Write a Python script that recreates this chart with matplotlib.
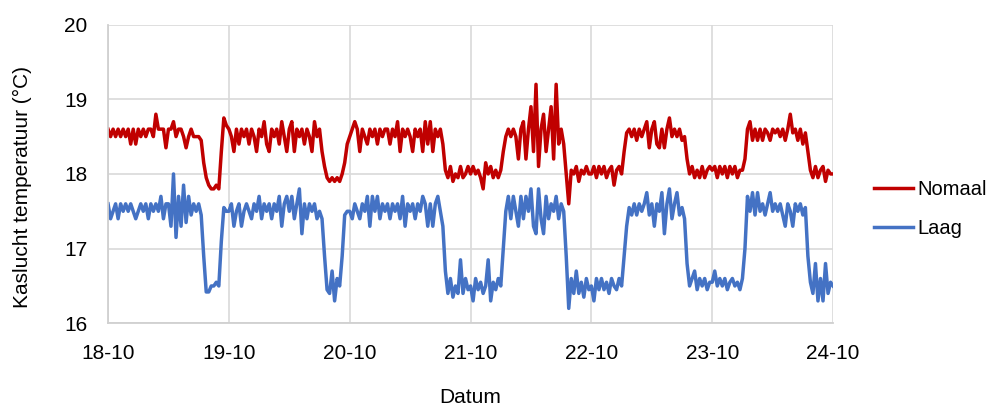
import numpy as np
import matplotlib
matplotlib.use("Agg")
import matplotlib.pyplot as plt

plt.rcParams['font.family'] = ['Liberation Sans', 'DejaVu Sans']

# Tick labels (days)
day_labels = ['18-10', '19-10', '20-10', '21-10', '22-10', '23-10', '24-10']

# Half-hourly readings per day (48 values each)
nomaal_18 = [
    18.6, 18.5, 18.6, 18.5, 18.6, 18.5, 18.6, 18.5, 18.6, 18.4, 18.6, 18.4,
    18.6, 18.5, 18.6, 18.5, 18.6, 18.6, 18.5, 18.8, 18.6, 18.6, 18.6, 18.35,
    18.6, 18.6, 18.7, 18.5, 18.6, 18.6, 18.5, 18.35, 18.5, 18.6, 18.5, 18.5,
    18.5, 18.45, 18.15, 17.95, 17.85, 17.8, 17.8, 17.85, 17.8, 18.3, 18.75, 18.65]
nomaal_19 = [
    18.6, 18.5, 18.3, 18.6, 18.4, 18.6, 18.5, 18.6, 18.4, 18.6, 18.5, 18.3,
    18.6, 18.5, 18.7, 18.4, 18.3, 18.6, 18.5, 18.6, 18.4, 18.7, 18.5, 18.3,
    18.6, 18.7, 18.3, 18.6, 18.5, 18.6, 18.4, 18.6, 18.5, 18.3, 18.7, 18.5,
    18.6, 18.3, 18.1, 17.95, 17.9, 17.95, 17.9, 17.95, 17.9, 18.0, 18.15, 18.4]
nomaal_20 = [
    18.5, 18.6, 18.7, 18.6, 18.3, 18.6, 18.5, 18.4, 18.6, 18.5, 18.6, 18.4,
    18.6, 18.5, 18.6, 18.6, 18.4, 18.6, 18.5, 18.7, 18.3, 18.6, 18.5, 18.6,
    18.5, 18.3, 18.6, 18.5, 18.6, 18.3, 18.7, 18.4, 18.7, 18.3, 18.6, 18.5,
    18.6, 18.4, 18.05, 17.95, 18.1, 17.9, 18.0, 17.95, 18.1, 17.95, 18.0, 18.1]
nomaal_21 = [
    18.0, 18.1, 18.0, 18.05, 17.95, 17.8, 18.15, 18.0, 18.1, 17.95, 18.05, 17.95,
    18.05, 18.3, 18.5, 18.6, 18.5, 18.6, 18.5, 18.2, 18.6, 18.7, 18.2, 18.6,
    18.9, 18.3, 19.2, 18.1, 18.6, 18.8, 18.3, 18.6, 18.9, 18.2, 19.2, 18.4,
    18.6, 18.4, 18.0, 17.6, 18.05, 18.0, 18.1, 17.9, 18.05, 18.0, 18.1, 18.0]
nomaal_22 = [
    18.0, 18.1, 17.95, 18.1, 18.0, 18.1, 17.95, 18.05, 18.1, 17.85, 18.05, 18.1,
    18.0, 18.3, 18.55, 18.6, 18.5, 18.6, 18.45, 18.6, 18.5, 18.6, 18.7, 18.35,
    18.6, 18.7, 18.4, 18.35, 18.6, 18.35, 18.6, 18.75, 18.5, 18.6, 18.5, 18.6,
    18.45, 18.5, 18.2, 18.0, 18.1, 17.95, 18.05, 17.95, 18.1, 17.95, 18.05, 18.1]
nomaal_23 = [
    18.05, 18.1, 17.95, 18.1, 18.0, 18.1, 17.95, 18.1, 18.0, 18.1, 17.95, 18.05,
    18.05, 18.2, 18.6, 18.7, 18.45, 18.6, 18.45, 18.6, 18.45, 18.6, 18.55, 18.45,
    18.6, 18.55, 18.6, 18.5, 18.6, 18.45, 18.6, 18.8, 18.55, 18.6, 18.45, 18.6,
    18.4, 18.55, 18.3, 18.05, 17.95, 18.1, 17.95, 18.05, 18.1, 17.9, 18.05, 18.0]
nomaal_24 = [18.0]

laag_18 = [
    17.6, 17.4, 17.5, 17.6, 17.4, 17.6, 17.5, 17.6, 17.5, 17.6, 17.5, 17.4,
    17.5, 17.6, 17.5, 17.6, 17.4, 17.6, 17.5, 17.6, 17.5, 17.7, 17.4, 17.6,
    17.6, 17.3, 18.0, 17.15, 17.7, 17.3, 17.85, 17.35, 17.7, 17.45, 17.6, 17.5,
    17.6, 17.45, 16.9, 16.42, 16.42, 16.5, 16.5, 16.55, 16.5, 17.1, 17.55, 17.5]
laag_19 = [
    17.5, 17.6, 17.3, 17.5, 17.6, 17.3, 17.5, 17.6, 17.5, 17.4, 17.6, 17.5,
    17.7, 17.4, 17.6, 17.5, 17.6, 17.4, 17.6, 17.5, 17.7, 17.3, 17.6, 17.7,
    17.5, 17.7, 17.4, 17.6, 17.8, 17.2, 17.6, 17.4, 17.6, 17.5, 17.6, 17.4,
    17.5, 17.4, 16.9, 16.45, 16.4, 16.7, 16.3, 16.6, 16.5, 16.9, 17.45, 17.5]
laag_20 = [
    17.5, 17.4, 17.6, 17.5, 17.4, 17.6, 17.5, 17.7, 17.3, 17.7, 17.5, 17.7,
    17.4, 17.6, 17.5, 17.6, 17.4, 17.6, 17.5, 17.6, 17.4, 17.7, 17.3, 17.6,
    17.5, 17.6, 17.4, 17.6, 17.5, 17.7, 17.6, 17.3, 17.6, 17.3, 17.6, 17.7,
    17.5, 17.3, 16.7, 16.4, 16.6, 16.35, 16.5, 16.4, 16.85, 16.4, 16.6, 16.45]
laag_21 = [
    16.5, 16.3, 16.6, 16.45, 16.55, 16.4, 16.5, 16.85, 16.3, 16.55, 16.45, 16.6,
    16.5, 17.0, 17.5, 17.7, 17.4, 17.7, 17.5, 17.3, 17.7, 17.4, 17.7, 17.5,
    17.8, 17.3, 17.2, 17.8, 17.4, 17.2, 17.7, 17.4, 17.6, 17.5, 17.7, 17.4,
    17.6, 17.5, 16.9, 16.2, 16.6, 16.4, 16.7, 16.4, 16.55, 16.35, 16.6, 16.45]
laag_22 = [
    16.5, 16.3, 16.6, 16.45, 16.6, 16.45, 16.55, 16.4, 16.6, 16.5, 16.45, 16.6,
    16.5, 16.9, 17.3, 17.55, 17.45, 17.6, 17.45, 17.6, 17.5, 17.6, 17.75, 17.45,
    17.6, 17.3, 17.6, 17.5, 17.75, 17.2, 17.6, 17.8, 17.4, 17.6, 17.75, 17.45,
    17.55, 17.4, 16.8, 16.5, 16.6, 16.7, 16.45, 16.6, 16.5, 16.6, 16.45, 16.55]
laag_23 = [
    16.55, 16.7, 16.5, 16.6, 16.5, 16.6, 16.45, 16.55, 16.6, 16.5, 16.55, 16.45,
    16.6, 17.0, 17.7, 17.5, 17.75, 17.45, 17.75, 17.5, 17.6, 17.45, 17.6, 17.75,
    17.5, 17.6, 17.5, 17.6, 17.45, 17.3, 17.6, 17.5, 17.3, 17.6, 17.5, 17.6,
    17.45, 17.55, 16.9, 16.55, 16.4, 16.8, 16.3, 16.6, 16.3, 16.8, 16.4, 16.55]
laag_24 = [16.5]

nomaal = np.array(nomaal_18 + nomaal_19 + nomaal_20 + nomaal_21 + nomaal_22 + nomaal_23 + nomaal_24)
laag = np.array(laag_18 + laag_19 + laag_20 + laag_21 + laag_22 + laag_23 + laag_24)
t = np.arange(len(nomaal)) / 48.0  # time in days since 18-10

fig = plt.figure(figsize=(9.94, 4.05), dpi=100)
ax = fig.add_axes([0.1087, 0.2017, 0.7294, 0.7376])

ax.plot(t, nomaal, color='#C00000', lw=2.5, label='Nomaal')
ax.plot(t, laag, color='#4472C4', lw=2.5, label='Laag')

ax.set_xlim(0, 6)
ax.set_ylim(16, 20)
ax.set_xticks(np.arange(len(day_labels)))
ax.set_xticklabels(day_labels)
ax.set_yticks([16, 17, 18, 19, 20])

ax.grid(True, color='#D9D9D9', lw=1.2)
ax.set_axisbelow(True)
for s in ['top', 'right']:
    ax.spines[s].set_visible(False)
for s in ['left', 'bottom']:
    ax.spines[s].set_color('#D0D0D0')
    ax.spines[s].set_linewidth(1.3)

ax.tick_params(axis='both', length=0, labelsize=15, colors='black')
ax.tick_params(axis='y', pad=15)
ax.tick_params(axis='x', pad=15)

ax.set_xlabel('Datum', fontsize=15)
ax.set_ylabel('Kaslucht temperatuur (°C)', fontsize=15)
ax.xaxis.set_label_coords(0.499, -0.215)
ax.yaxis.set_label_coords(-0.105, 0.456)

leg = fig.legend(loc='center left', bbox_to_anchor=(0.879, 0.483), frameon=False,
                 fontsize=14.5, handlelength=1.95, handletextpad=0.2,
                 labelspacing=1.0, borderpad=0, borderaxespad=0)

fig.savefig('out.png', dpi=100)
